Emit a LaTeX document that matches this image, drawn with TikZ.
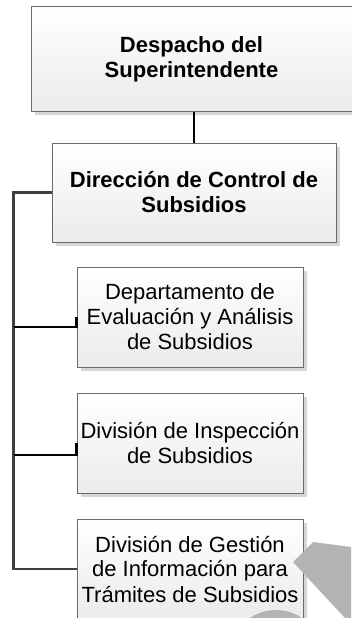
\documentclass[tikz,border=0pt]{standalone}
\usepackage{fontspec}
\setmainfont{Liberation Sans}
\usetikzlibrary{shadows,calc}
\definecolor{boxline}{HTML}{6A6A6A}
\definecolor{boxbot}{HTML}{EBEBEB}
\definecolor{shade}{HTML}{D6D6D6}
\definecolor{trunkc}{HTML}{404040}
\definecolor{wm}{HTML}{B3B3B3}
\tikzset{
  orgbox/.style={draw=boxline, line width=1pt, top color=white, bottom color=boxbot,
    minimum width=226pt, minimum height=100pt, inner sep=0pt, align=center,
    font=\fontsize{22}{25}\selectfont,
    drop shadow={shadow xshift=3.5pt, shadow yshift=-3.5pt, fill=shade, opacity=1}},
  headbox/.style={orgbox, font=\fontsize{22}{25}\selectfont\bfseries},
  trunk/.style={draw=trunkc, line width=2.4pt},
  branch/.style={draw=black, line width=2.1pt},
}
\begin{document}
\begin{tikzpicture}[x=1pt,y=-1pt]
\useasboundingbox (0,0) rectangle (351,618);
\node[headbox, minimum width=321pt, minimum height=104pt] (b1) at (191.5,59) {Despacho del\\Superintendente};
\node[headbox, minimum width=284pt, minimum height=99pt] (b2) at (194,192.5) {Dirección de Control de\\Subsidios};
\node[orgbox] (b3) at (190,317) {Departamento de\\Evaluación y Análisis\\de Subsidios};
\node[orgbox] (b4) at (190,443) {División de Inspección\\de Subsidios};
\node[orgbox] (b5) at (190,569) {División de Gestión\\de Información para\\Trámites de Subsidios};
\coordinate (t) at (13.5,0);
\draw[branch] (b2.north |- b1.south) -- (b2.north);
\draw[trunk] (b2.west) -- (b2.west -| t) -- (b5.west -| t) -- (b5.west);
\coordinate (k3) at ($(b3.west)+(0,10)$);
\coordinate (k4) at ($(b4.west)+(0,12)$);
\draw[branch] (b3.west) -- (k3) -- (k3 -| t);
\draw[branch] (b4.west) -- (k4) -- (k4 -| t);
\fill[wm] (313,542) -- (351,547) -- (351,618) -- (345,618) -- (293,562) -- cycle;
\fill[wm] (276,656) circle (46);
\end{tikzpicture}
\end{document}
